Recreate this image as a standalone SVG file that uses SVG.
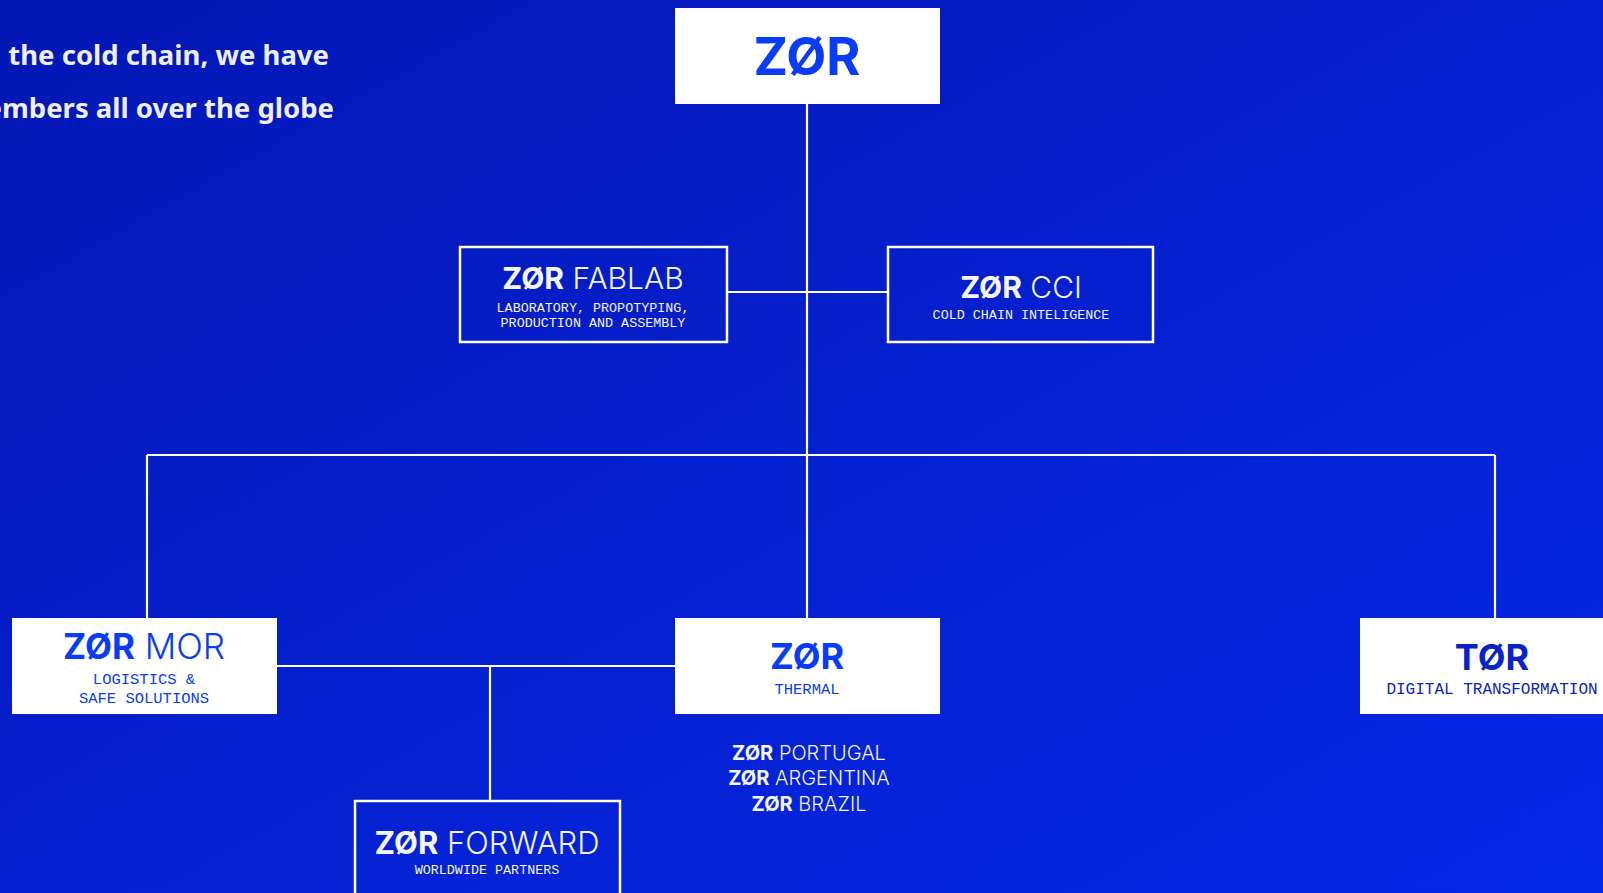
<svg xmlns="http://www.w3.org/2000/svg" width="1603" height="893" viewBox="0 0 1603 893">
<defs>
<linearGradient id="bg" x1="0" y1="0" x2="1" y2="1">
<stop offset="0" stop-color="#0317b3"/>
<stop offset="1" stop-color="#0628e8"/>
</linearGradient>
<style>
.ln{stroke:#ffffff;stroke-width:2.2;fill:none}
.ob{fill:none;stroke:#ffffff;stroke-width:2.5}
.wb{fill:#ffffff}
.h{font-family:Inter,"Noto Sans","Liberation Sans",sans-serif;text-anchor:middle}
.b{font-weight:700}
.l{font-weight:300}
.m{font-family:"Liberation Mono","DejaVu Sans Mono",monospace;text-anchor:middle}
.w{fill:#f4f4fa}
.bl{fill:#0a3cf5}
.dk{fill:#0b22c6}
.intro{font-family:"Noto Sans","Liberation Sans",sans-serif;font-weight:700;font-size:27.5px;fill:#eeeef6;text-anchor:end}
</style>
</defs>
<rect width="1603" height="893" fill="url(#bg)"/>
<text class="intro" x="329" y="65">the cold chain, we have</text>
<text class="intro" x="334" y="118">embers all over the globe</text>
<g id="connectors">
<line class="ln" x1="807" y1="104" x2="807" y2="618"/>
<line class="ln" x1="728" y1="292" x2="888" y2="292"/>
<line class="ln" x1="147" y1="455" x2="1495" y2="455"/>
<line class="ln" x1="147" y1="455" x2="147" y2="618"/>
<line class="ln" x1="1495" y1="455" x2="1495" y2="618"/>
<line class="ln" x1="277" y1="666" x2="675" y2="666"/>
<line class="ln" x1="490" y1="666" x2="490" y2="801"/>
</g>
<g id="zor">
<rect class="wb" x="675" y="8" width="265" height="96"/>
<text class="h b bl" x="807" y="75" font-size="52">ZØR</text>
</g>
<g id="fablab">
<rect class="ob" x="460" y="247" width="267" height="95"/>
<text class="h w" x="593" y="289" font-size="30"><tspan class="b">ZØR</tspan><tspan class="l"> FABLAB</tspan></text>
<text class="m w" x="593" y="312" font-size="13.4">LABORATORY, PROPOTYPING,</text>
<text class="m w" x="593" y="327" font-size="13.4">PRODUCTION AND ASSEMBLY</text>
</g>
<g id="cci">
<rect class="ob" x="888" y="247" width="265" height="95"/>
<text class="h w" x="1021" y="298" font-size="30"><tspan class="b">ZØR</tspan><tspan class="l"> CCI</tspan></text>
<text class="m w" x="1021" y="319" font-size="13.4">COLD CHAIN INTELIGENCE</text>
</g>
<g id="mor">
<rect class="wb" x="12" y="618" width="265" height="96"/>
<text class="h bl" x="144" y="659" font-size="35"><tspan class="b">ZØR</tspan><tspan class="l"> MOR</tspan></text>
<text class="m bl" x="144" y="684" font-size="15.5">LOGISTICS &amp;</text>
<text class="m bl" x="144" y="703" font-size="15.5">SAFE SOLUTIONS</text>
</g>
<g id="thermal">
<rect class="wb" x="675" y="618" width="265" height="96"/>
<text class="h b bl" x="807" y="669" font-size="36">ZØR</text>
<text class="m bl" x="807" y="694" font-size="15.5">THERMAL</text>
</g>
<g id="tor">
<rect class="wb" x="1360" y="618" width="250" height="96"/>
<text class="h b dk" x="1492" y="670" font-size="36">TØR</text>
<text class="m dk" x="1492" y="694" font-size="16">DIGITAL TRANSFORMATION</text>
</g>
<g id="forward">
<rect class="ob" x="355" y="801" width="265" height="100"/>
<text class="h w" x="487" y="854" font-size="31"><tspan class="b">ZØR</tspan><tspan class="l"> FORWARD</tspan></text>
<text class="m w" x="487" y="874" font-size="13.4">WORLDWIDE PARTNERS</text>
</g>
<g id="countries">
<text class="h w" x="809" y="760" font-size="20"><tspan class="b">ZØR</tspan><tspan class="l"> PORTUGAL</tspan></text>
<text class="h w" x="809" y="785" font-size="20"><tspan class="b">ZØR</tspan><tspan class="l"> ARGENTINA</tspan></text>
<text class="h w" x="809" y="811" font-size="20"><tspan class="b">ZØR</tspan><tspan class="l"> BRAZIL</tspan></text>
</g>
</svg>
